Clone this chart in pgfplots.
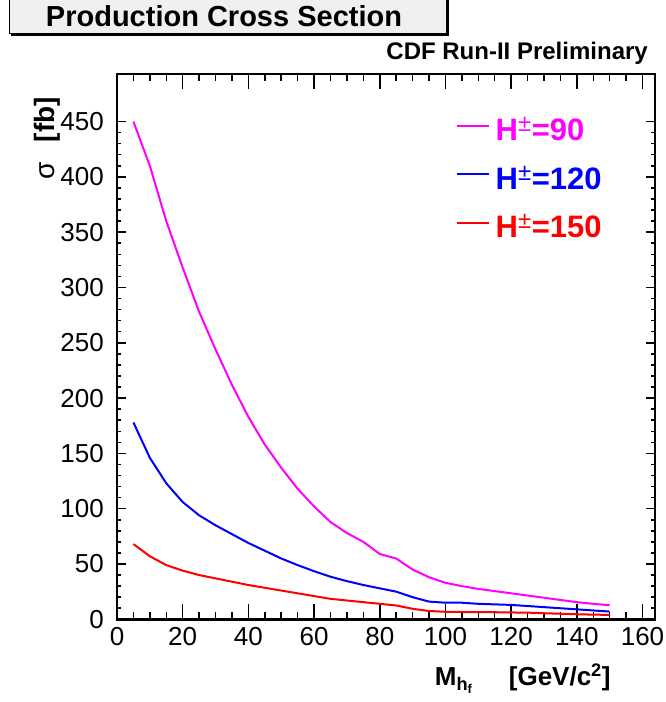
\documentclass[border=0pt]{standalone}
\usepackage{fontspec}
\setmainfont{Liberation Sans}
\usepackage{pgfplots}
\pgfplotsset{compat=1.18}
\definecolor{boxgrey}{RGB}{240,240,240}
\definecolor{rmag}{RGB}{255,0,255}
\definecolor{rblue}{RGB}{0,0,255}
\definecolor{rred}{RGB}{255,0,0}
\begin{document}
\begin{tikzpicture}[x=1pt,y=1pt]
\useasboundingbox (0,0) rectangle (665,702);
% title box with shadow
\fill[black] (11,666) rectangle (449,710);
\filldraw[fill=boxgrey, draw=black, line width=1pt] (9,668) rectangle (446,710);
\node[anchor=base, inner sep=0pt, font=\fontsize{29}{29}\selectfont\bfseries] at (224,675) {Production Cross Section};
\node[anchor=base east, inner sep=0pt, font=\fontsize{24}{24}\selectfont\bfseries] at (648,642) {CDF Run-II Preliminary};

% axis with x ticks (longer ticks)
\begin{axis}[
  at={(117pt,82.7pt)}, anchor=south west,
  width=538pt, height=545.3pt, scale only axis,
  xmin=0, xmax=163.8, ymin=0, ymax=493,
  xtick={0,20,...,160}, minor x tick num=3,
  ytick=\empty,
  major tick length=15pt, minor tick length=7.5pt,
  tick align=inside,
  tick style={black, line width=1.5pt},
  axis line style={line width=2.5pt},
  /pgf/number format/assume math mode=true,
  xticklabel style={font=\fontsize{26}{26}\selectfont, inner sep=0pt, anchor=north, yshift=-8pt},
  xlabel={\bfseries M\textsubscript{h\textsubscript{f}}\hspace{36pt}[GeV/c\textsuperscript{2}]},
  xlabel style={at={(rel axis cs:0.9177,-0.1223)}, anchor=base east, inner sep=0pt, font=\fontsize{26}{26}\selectfont},
]
\end{axis}

% axis with data, y ticks and legend
\begin{axis}[
  at={(117pt,82.7pt)}, anchor=south west,
  width=538pt, height=545.3pt, scale only axis,
  xmin=0, xmax=163.8, ymin=0, ymax=493,
  xtick=\empty,
  ytick={0,50,...,450}, minor y tick num=4,
  major tick length=9pt, minor tick length=4.5pt,
  tick align=inside,
  tick style={black, line width=1.5pt},
  axis line style={line width=2.5pt},
  /pgf/number format/assume math mode=true,
  yticklabel style={font=\fontsize{26}{26}\selectfont, inner sep=0pt, anchor=east, xshift=-13pt},
  ylabel={\fontsize{28}{28}\selectfont σ\hspace{20pt}\bfseries [fb]},
  ylabel style={at={(rel axis cs:-0.1171,0.958)}, anchor=base east, inner sep=0pt, font=\fontsize{29}{29}\selectfont},
  legend style={at={(rel axis cs:0.6296,0.9217)}, anchor=north west, draw=none, fill=none,
    inner sep=0pt, outer sep=0pt, row sep=24.5pt, column sep=6pt,
    font=\fontsize{31}{31}\selectfont\bfseries,
    nodes={inner sep=0pt, text height=24pt, text depth=0pt}},
  legend cell align=left,
  legend image code/.code={\draw[#1, line width=2pt] (0pt,3pt) -- (32pt,3pt);},
]
\addplot[rmag, line width=2pt, mark=none] coordinates {
(5,450) (10,410) (15,360) (20,318) (25,278) (30,244) (35,212) (40,183) (45,158) (50,137)
(55,118) (60,102) (65,88) (70,78) (75,70) (80,59) (85,55) (90,45) (95,38) (100,33)
(105,30) (110,27.5) (115,25.5) (120,23.5) (125,21.5) (130,19.5) (135,17.5) (140,15.5) (145,14) (150,12.7)};
\addlegendentry{\textcolor{rmag}{H\textsuperscript{\mdseries\fontsize{24}{24}\selectfont ±}=90}}
\addplot[rblue, line width=2pt, mark=none] coordinates {
(5,178) (10,146) (15,123) (20,106) (25,94) (30,85) (35,77) (40,69) (45,62) (50,55)
(55,49) (60,43.5) (65,38.5) (70,34.5) (75,31) (80,28) (85,25) (90,20) (95,16) (100,15)
(105,15) (110,14) (115,13.5) (120,13) (125,12) (130,11) (135,10) (140,9) (145,8) (150,7)};
\addlegendentry{\textcolor{rblue}{H\textsuperscript{\mdseries\fontsize{24}{24}\selectfont ±}=120}}
\addplot[rred, line width=2pt, mark=none] coordinates {
(5,68) (10,57) (15,49) (20,44) (25,40) (30,37) (35,34) (40,31) (45,28.5) (50,26)
(55,23.5) (60,21) (65,18.5) (70,17) (75,15.5) (80,14) (85,12.5) (90,9.5) (95,7.5) (100,6.8)
(105,6.6) (110,6.5) (115,6.4) (120,6.2) (125,6) (130,5.5) (135,5) (140,4.6) (145,4.2) (150,4)};
\addlegendentry{\textcolor{rred}{H\textsuperscript{\mdseries\fontsize{24}{24}\selectfont ±}=150}}
\end{axis}
\end{tikzpicture}
\end{document}
